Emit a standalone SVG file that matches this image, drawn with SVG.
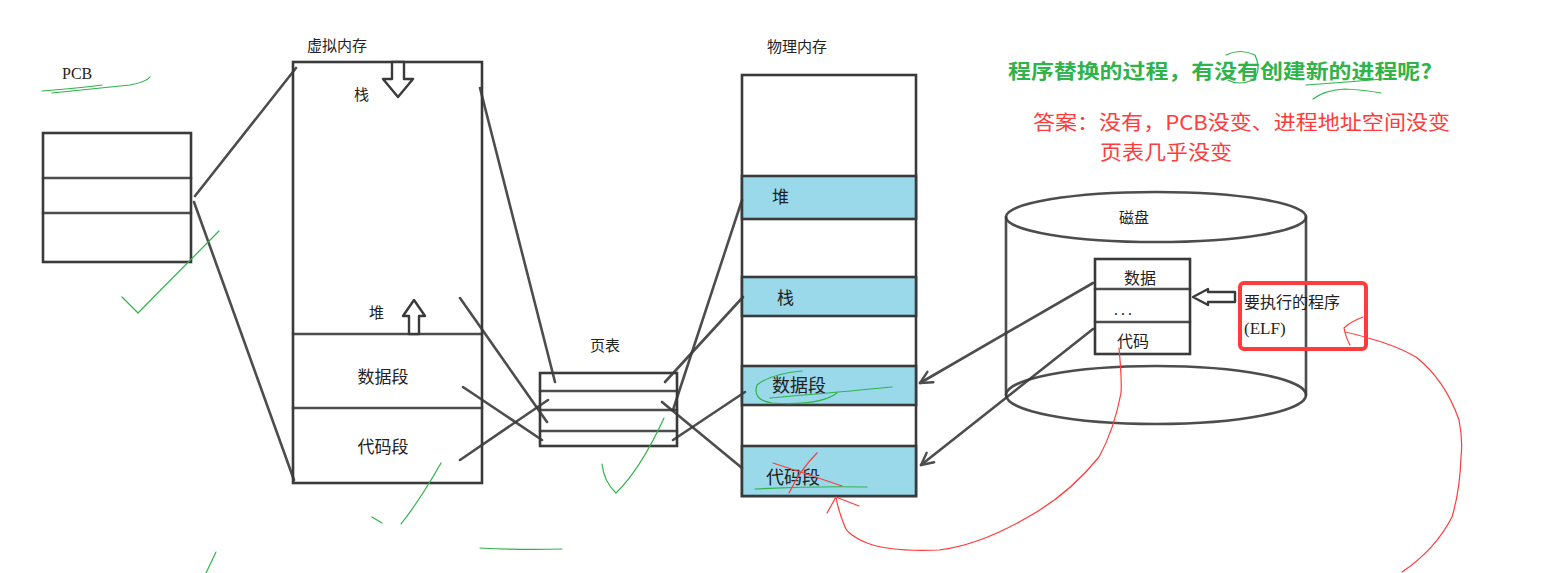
<svg xmlns="http://www.w3.org/2000/svg" width="1547" height="573" viewBox="0 0 1547 573">
<style>
.sk{fill:none;stroke:#3a3a3a;stroke-width:2.6;stroke-linecap:round;stroke-linejoin:round;opacity:.9}
.bx{fill:#fff;stroke:#3a3a3a;stroke-width:2.6}
.bl{fill:#99d9ea;stroke:#3a3a3a;stroke-width:2.6}
.t{font-family:"Noto Sans CJK SC","Liberation Sans",sans-serif;fill:#222}
.tm{font-family:"Liberation Serif","Noto Sans CJK SC",serif;fill:#222}
.g{fill:none;stroke:#2fb34a;stroke-width:1.2;stroke-linecap:round;stroke-linejoin:round}
.r{fill:none;stroke:#ff3b3b;stroke-width:1.2;stroke-linecap:round;stroke-linejoin:round}
.hol{fill:#fff;stroke:#3a3a3a;stroke-width:2.4;stroke-linejoin:round}
</style>
<defs>
<marker id="open" markerWidth="16" markerHeight="16" refX="14" refY="8" orient="auto" markerUnits="userSpaceOnUse" overflow="visible">
<path d="M2,2 L14,8 L2,14" fill="none" stroke="#3a3a3a" stroke-width="2.4" stroke-linecap="round" stroke-linejoin="round"/>
</marker>
</defs>

<g id="pcb">
<text class="tm" x="62" y="79" font-size="16">PCB</text>
<rect class="bx" x="43" y="133" width="148" height="129"/>
<line class="sk" x1="43" y1="178" x2="191" y2="178"/>
<line class="sk" x1="43" y1="213" x2="191" y2="213"/>
</g>

<g id="virtual-memory">
<text class="t" x="307" y="51" font-size="15">虚拟内存</text>
<rect class="bx" x="293" y="62" width="189" height="421"/>
<line class="sk" x1="293" y1="334" x2="482" y2="334"/>
<line class="sk" x1="293" y1="408" x2="482" y2="408"/>
<text class="t" x="354" y="100" font-size="15">栈</text>
<path class="hol" d="M392,62 L404,62 L404,79 L413,79 L398,97 L383,79 L392,79 Z"/>
<text class="t" x="369" y="318" font-size="15">堆</text>
<path class="hol" d="M409,334 L419,334 L419,316 L425,316 L414,300 L403,316 L409,316 Z"/>
<text class="t" x="383" y="383" text-anchor="middle" font-size="17">数据段</text>
<text class="t" x="383" y="453" text-anchor="middle" font-size="17">代码段</text>
</g>

<g id="page-table">
<text class="t" x="605" y="351" text-anchor="middle" font-size="15">页表</text>
<rect class="bx" x="540" y="373" width="137" height="73"/>
<line class="sk" x1="540" y1="391" x2="677" y2="391"/>
<line class="sk" x1="540" y1="410" x2="677" y2="410"/>
<line class="sk" x1="540" y1="431" x2="677" y2="431"/>
</g>

<g id="physical-memory">
<text class="t" x="797" y="52" text-anchor="middle" font-size="15">物理内存</text>
<rect class="bx" x="742" y="75" width="174" height="421"/>
<rect class="bl" x="742" y="176" width="174" height="43"/>
<rect class="bl" x="742" y="277" width="174" height="39"/>
<rect class="bl" x="742" y="366" width="174" height="39"/>
<rect class="bl" x="742" y="446" width="174" height="50"/>
<text class="t" x="772" y="203" font-size="17">堆</text>
<text class="t" x="777" y="304" font-size="17">栈</text>
<text class="t" x="772" y="392" font-size="18">数据段</text>
<text class="t" x="766" y="484" font-size="18">代码段</text>
</g>

<g id="disk">
<path class="sk" d="M1006,217 L1006,395 M1306,217 L1306,395"/>
<ellipse class="sk" cx="1156" cy="217" rx="150" ry="25" fill="#fff"/>
<ellipse class="sk" cx="1156" cy="395" rx="150" ry="29"/>
<text class="t" x="1134" y="223" text-anchor="middle" font-size="15">磁盘</text>
<rect class="bx" x="1095" y="259" width="95" height="95"/>
<line class="sk" x1="1095" y1="289" x2="1190" y2="289"/>
<line class="sk" x1="1095" y1="322" x2="1190" y2="322"/>
<text class="t" x="1140" y="284" text-anchor="middle" font-size="16">数据</text>
<text class="t" x="1123" y="315" text-anchor="middle" font-size="14">. . .</text>
<text class="t" x="1133" y="347" text-anchor="middle" font-size="16">代码</text>
<path class="hol" d="M1193,297 L1208,289 L1208,292 L1235,292 L1235,302 L1208,302 L1208,305 Z"/>
</g>

<g id="elf">
<rect x="1240" y="283" width="126" height="66" rx="4" fill="none" stroke="#ff3b3b" stroke-width="4"/>
<text class="t" x="1244" y="308" font-size="16">要执行的程序</text>
<text class="tm" x="1244" y="334" font-size="17">(ELF)</text>
</g>

<g id="connectors">
<line class="sk" x1="195" y1="196" x2="296" y2="68"/>
<line class="sk" x1="194" y1="202" x2="294" y2="480"/>
<line class="sk" x1="480" y1="88" x2="555" y2="382"/>
<line class="sk" x1="460" y1="298" x2="547" y2="422"/>
<line class="sk" x1="463" y1="387" x2="542" y2="440"/>
<line class="sk" x1="460" y1="460" x2="548" y2="400"/>
<line class="sk" x1="665" y1="382" x2="743" y2="297"/>
<line class="sk" x1="673" y1="410" x2="742" y2="200"/>
<line class="sk" x1="662" y1="402" x2="742" y2="468"/>
<line class="sk" x1="673" y1="440" x2="745" y2="392"/>
<line class="sk" x1="1093" y1="283" x2="920" y2="383" marker-end="url(#open)"/>
<line class="sk" x1="1093" y1="329" x2="921" y2="465" marker-end="url(#open)"/>
</g>

<g id="question">
<text x="1008" y="79" font-family="'Noto Sans CJK SC',sans-serif" font-size="20" font-weight="bold" fill="#2fb34a" textLength="424" lengthAdjust="spacingAndGlyphs">程序替换的过程，有没有创建新的进程呢?</text>
<text x="1033" y="130" font-family="'Noto Sans CJK SC',sans-serif" font-size="20" fill="#ff3b3b" textLength="417" lengthAdjust="spacingAndGlyphs">答案：没有，PCB没变、进程地址空间没变</text>
<text x="1100" y="160" font-family="'Noto Sans CJK SC',sans-serif" font-size="20" fill="#ff3b3b" textLength="132" lengthAdjust="spacingAndGlyphs">页表几乎没变</text>
</g>

<g id="annotations">
<path class="g" d="M42,91 Q80,88 102,85 M52,93 Q100,88 130,85 Q146,82 150,77"/>
<path class="g" d="M122,297 L138,313 L219,231"/>
<path class="g" d="M441,463 Q420,500 401,524 M372,517 L382,523"/>
<path class="g" d="M480,548 Q520,550 562,549"/>
<path class="g" d="M216,552 L206,573"/>
<path class="g" d="M664,418 Q640,470 616,493 Q604,482 602,464"/>
<path class="g" d="M802,371 Q770,374 757,385 Q752,400 772,403 Q820,406 837,393 M770,398 Q840,392 892,387"/>
<path class="g" d="M755,489 Q810,486 867,487"/>
<path class="g" d="M1226,55 Q1240,48 1255,55 Q1262,70 1253,80 Q1238,86 1228,80 M1313,99 Q1325,90 1345,89 Q1365,90 1381,93 M1306,85 Q1350,82 1395,78"/>
<path class="r" d="M773,463 Q810,475 842,486 M817,453 Q800,470 789,493"/>
<path class="r" d="M1119,348 Q1122,380 1121,393 Q1114,430 1099,457 Q1068,495 1028,517 Q980,545 939,550 Q890,552 867,543 Q848,535 845,527 Q838,510 836,497 M836,497 L827,513 M836,497 L859,506"/>
<path class="r" d="M1345,332 Q1355,334 1368,338 Q1395,345 1416,357 Q1445,380 1459,420 Q1463,440 1461,457 Q1460,490 1452,517 Q1435,550 1402,572 M1363,317 Q1350,322 1344,328 Q1346,338 1350,345"/>
</g>
</svg>
